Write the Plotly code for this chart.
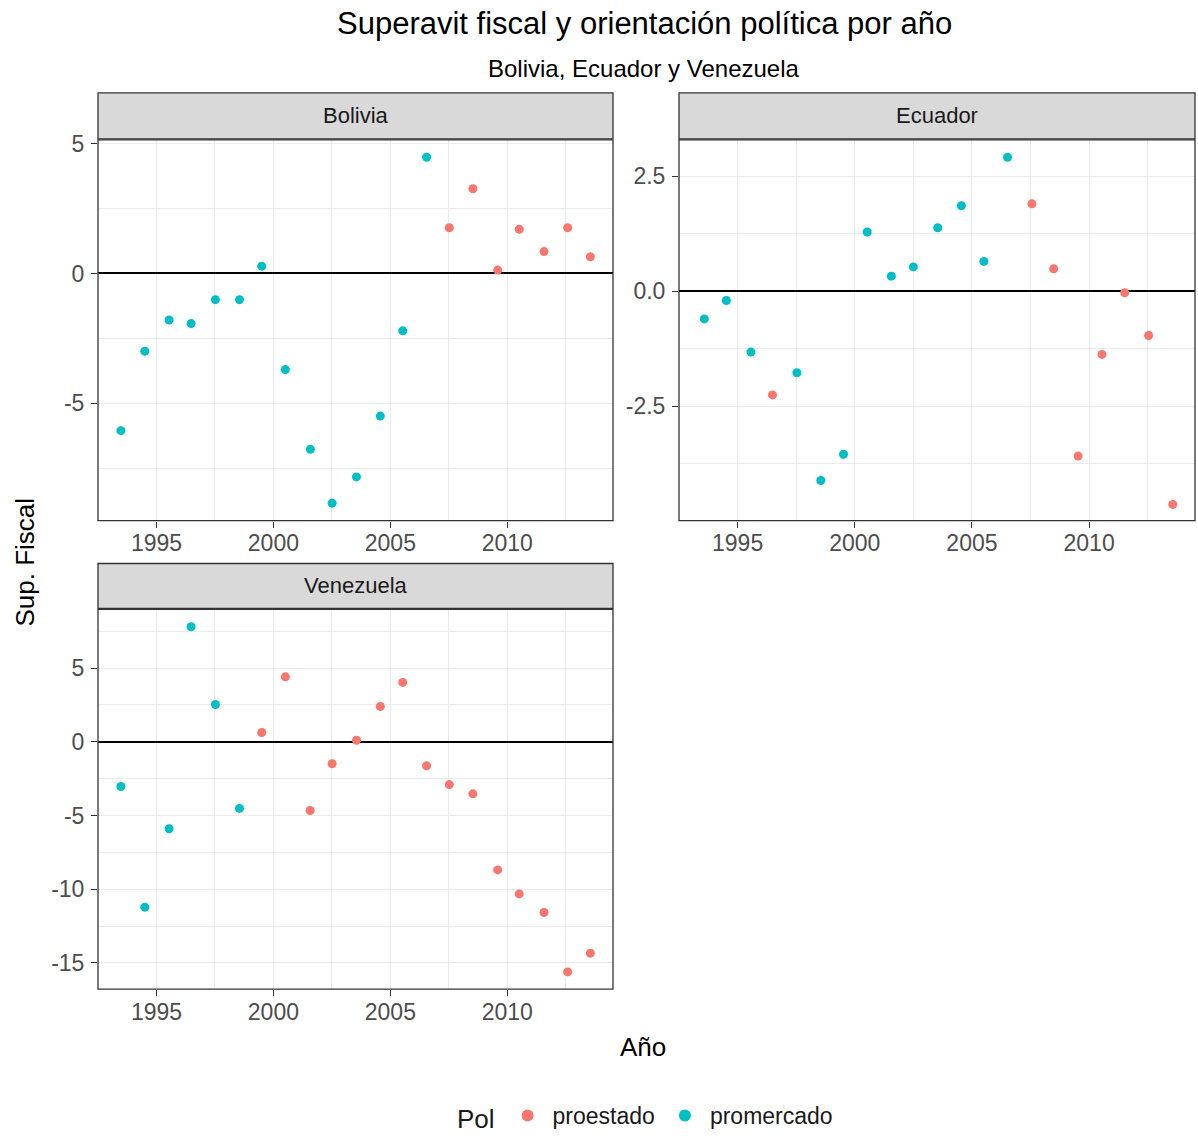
import plotly.graph_objects as go

# ---------------- data ----------------
bolivia_x = [1993.48, 1994.50, 1995.54, 1996.48, 1997.52, 1998.55, 1999.50, 2000.51, 2001.58, 2002.51,
             2003.55, 2004.57, 2005.53, 2006.55, 2007.52, 2008.53, 2009.59, 2010.51, 2011.57, 2012.58, 2013.55]
bolivia_y = [-6.05, -2.99, -1.79, -1.93, -1.01, -1.01, 0.28, -3.70, -6.77, -8.84,
             -7.83, -5.49, -2.21, 4.47, 1.76, 3.26, 0.13, 1.70, 0.84, 1.76, 0.64]
bolivia_pol = ["promercado"] * 14 + ["proestado"] * 7

ecuador_x = [1993.58, 1994.52, 1995.57, 1996.49, 1997.53, 1998.55, 1999.52, 2000.53, 2001.56, 2002.50,
             2003.54, 2004.55, 2005.51, 2006.52, 2007.56, 2008.49, 2009.53, 2010.55, 2011.52, 2012.54, 2013.57]
ecuador_y = [-0.60, -0.20, -1.32, -2.25, -1.77, -4.11, -3.54, 1.29, 0.33, 0.53,
             1.38, 1.86, 0.65, 2.91, 1.90, 0.49, -3.58, -1.37, -0.03, -0.96, -4.63]
ecuador_pol = ["promercado"] * 3 + ["proestado"] + ["promercado"] * 10 + ["proestado"] * 7

venezuela_x = [1993.48, 1994.50, 1995.54, 1996.48, 1997.52, 1998.55, 1999.50, 2000.51, 2001.57, 2002.51,
               2003.55, 2004.57, 2005.53, 2006.55, 2007.52, 2008.53, 2009.59, 2010.51, 2011.57, 2012.58, 2013.55]
venezuela_y = [-3.03, -11.22, -5.90, 7.81, 2.53, -4.52, 0.63, 4.41, -4.66, -1.49,
               0.11, 2.40, 4.03, -1.63, -2.90, -3.53, -8.69, -10.32, -11.58, -15.61, -14.34]
venezuela_pol = ["promercado"] * 6 + ["proestado"] * 15

x_ticks = [1995, 2000, 2005, 2010]
x_minor = [1997.5, 2002.5, 2007.5, 2012.5]

bol_ticks = [-5, 0, 5]
bol_tick_text = ["-5", "0", "5"]
bol_minor = [-7.5, -2.5, 2.5]

ecu_ticks = [-2.5, 0, 2.5]
ecu_tick_text = ["-2.5", "0.0", "2.5"]
ecu_minor = [-3.75, -1.25, 1.25]

ven_ticks = [-15, -10, -5, 0, 5]
ven_tick_text = ["-15", "-10", "-5", "0", "5"]
ven_minor = [-12.5, -7.5, -2.5, 2.5, 7.5]

colors = {"proestado": "#F8766D", "promercado": "#00BFC4"}
W, H = 1198, 1138
FONT = "Liberation Sans, Arial, sans-serif"

# ---------------- figure ----------------
fig = go.Figure()

panels = [
    ("Bolivia", bolivia_x, bolivia_y, bolivia_pol, "x", "y"),
    ("Ecuador", ecuador_x, ecuador_y, ecuador_pol, "x2", "y2"),
    ("Venezuela", venezuela_x, venezuela_y, venezuela_pol, "x3", "y3"),
]

shown = set()
for name, xs, ys, pols, xa, ya in panels:
    for pol in ["proestado", "promercado"]:
        px_ = [x for x, p in zip(xs, pols) if p == pol]
        py_ = [y for y, p in zip(ys, pols) if p == pol]
        fig.add_trace(go.Scatter(
            x=px_, y=py_, mode="markers", xaxis=xa, yaxis=ya,
            name=pol, legendgroup=pol, showlegend=pol not in shown,
            marker=dict(color=colors[pol], size=9, line=dict(width=0)),
        ))
        shown.add(pol)


def px2x(p):
    return p / W


TOP_PUSH = 8.0


def px2y(p):
    # the rendered plot area starts ~8 px below the top of the page
    q = (p - TOP_PUSH) * H / (H - TOP_PUSH)
    return 1 - q / H


xdom_left = [px2x(98), px2x(613)]
xdom_right = [px2x(679), px2x(1195)]
ydom_top = [px2y(520), px2y(139)]
ydom_bot = [px2y(989), px2y(609)]

grid_col = "#EBEBEB"
tick_font = dict(family=FONT, size=23, color="#4D4D4D")


def xaxis(domain, anchor):
    return dict(domain=domain, anchor=anchor, range=[1992.5, 2014.52],
                tickvals=x_ticks, ticktext=[str(t) for t in x_ticks],
                showgrid=True, gridcolor=grid_col, gridwidth=1.1,
                minor=dict(tickvals=x_minor, showgrid=True, gridcolor=grid_col, gridwidth=0.6, ticks=""),
                ticks="outside", ticklen=6, tickcolor="#333333", tickwidth=1.1,
                ticklabelstandoff=-4,
                tickfont=tick_font, zeroline=False, showline=False)


def yaxis(domain, anchor, rng, tv, tt, mn):
    return dict(domain=domain, anchor=anchor, range=rng,
                tickvals=tv, ticktext=tt,
                showgrid=True, gridcolor=grid_col, gridwidth=1.1,
                minor=dict(tickvals=mn, showgrid=True, gridcolor=grid_col, gridwidth=0.6, ticks=""),
                ticks="outside", ticklen=6, tickcolor="#333333", tickwidth=1.1,
                ticklabelstandoff=2,
                tickfont=tick_font, zeroline=True, zerolinecolor="#000000", zerolinewidth=1.6,
                showline=False)


fig.update_layout(
    width=W, height=H,
    margin=dict(l=0, r=0, t=0, b=0),
    paper_bgcolor="white", plot_bgcolor="white",
    font=dict(family=FONT, color="#1A1A1A"),
    xaxis=xaxis(xdom_left, "y"),
    yaxis=yaxis(ydom_top, "x", [-9.51, 5.14], bol_ticks, bol_tick_text, bol_minor),
    xaxis2=xaxis(xdom_right, "y2"),
    yaxis2=yaxis(ydom_top, "x2", [-4.98, 3.29], ecu_ticks, ecu_tick_text, ecu_minor),
    xaxis3=xaxis(xdom_left, "y3"),
    yaxis3=yaxis(ydom_bot, "x3", [-16.78, 8.98], ven_ticks, ven_tick_text, ven_minor),
    showlegend=True,
    legend=dict(orientation="h", x=455 / W, xanchor="left", y=0, yanchor="bottom",
                title=dict(text="Pol", font=dict(family=FONT, size=26, color="#1A1A1A")),
                font=dict(family=FONT, size=23, color="#1A1A1A"),
                itemwidth=40,
                itemsizing="constant", bgcolor="rgba(0,0,0,0)"),
)

shapes = []
annotations = []
# panel borders
for xa, ya in [("x", "y"), ("x2", "y2"), ("x3", "y3")]:
    shapes.append(dict(type="rect", xref=f"{xa} domain", yref=f"{ya} domain",
                       x0=0, x1=1, y0=0, y1=1, line=dict(color="#333333", width=1.3),
                       fillcolor="rgba(0,0,0,0)", layer="above"))
# strips
strips = [("Bolivia", xdom_left, [px2y(138), px2y(92)]),
          ("Ecuador", xdom_right, [px2y(138), px2y(92)]),
          ("Venezuela", xdom_left, [px2y(608), px2y(563)])]
for label, xd, yd in strips:
    shapes.append(dict(type="rect", xref="paper", yref="paper",
                       x0=xd[0], x1=xd[1], y0=yd[0], y1=yd[1],
                       line=dict(color="#333333", width=1.3), fillcolor="#D9D9D9", layer="above"))
    annotations.append(dict(text=label, xref="paper", yref="paper", x=(xd[0] + xd[1]) / 2,
                            y=(yd[0] + yd[1]) / 2, xanchor="center", yanchor="middle",
                            showarrow=False, font=dict(family=FONT, size=22, color="#1A1A1A")))

# titles
annotations.append(dict(text="Superavit fiscal y orientación política por año", xref="paper", yref="paper",
                        x=644 / W, y=px2y(23), xanchor="center", yanchor="middle", showarrow=False,
                        font=dict(family=FONT, size=31, color="#000000")))
annotations.append(dict(text="Bolivia, Ecuador y Venezuela", xref="paper", yref="paper",
                        x=644 / W, y=px2y(68), xanchor="center", yanchor="middle", showarrow=False,
                        font=dict(family=FONT, size=24, color="#000000")))
annotations.append(dict(text="Sup. Fiscal", xref="paper", yref="paper",
                        x=25 / W, y=px2y(562), xanchor="center", yanchor="middle", showarrow=False,
                        textangle=-90, font=dict(family=FONT, size=26, color="#000000")))
annotations.append(dict(text="Año", xref="paper", yref="paper",
                        x=643 / W, y=px2y(1047), xanchor="center", yanchor="middle", showarrow=False,
                        font=dict(family=FONT, size=26, color="#000000")))

fig.update_layout(shapes=shapes, annotations=annotations)

post = (
    "document.documentElement.style.margin='0';"
    "document.documentElement.style.padding='0';"
    "document.documentElement.style.overflow='hidden';"
    "document.body.style.margin='0';"
    "document.body.style.padding='0';"
    "document.body.style.overflow='hidden';"
    "var d=document.getElementsByClassName('plotly-graph-div')[0];"
    "d.style.position='absolute';d.style.top='0px';d.style.left='0px';"
)

fig.write_html("out.html", config={"displayModeBar": False}, post_script=post)
